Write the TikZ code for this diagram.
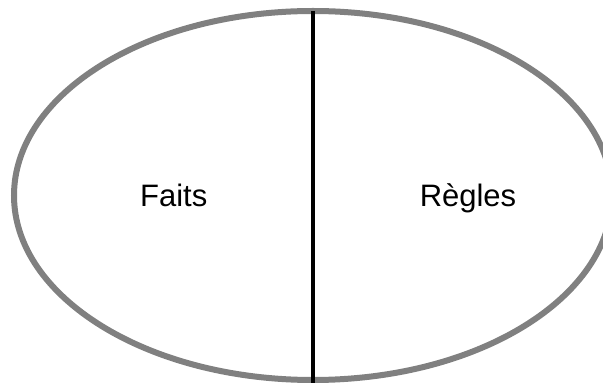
\documentclass[tikz,border=0pt]{standalone}
\usepackage{fontspec}
\setmainfont{Liberation Sans}
\begin{document}
\begin{tikzpicture}[x=1pt,y=1pt,
  oval/.style={draw={rgb,255:red,128;green,128;blue,128},line width=6pt},
  divider/.style={draw=black,line width=3.5pt},
  lbl/.style={font=\fontsize{31}{36}\selectfont,anchor=base,inner sep=0pt}]
\useasboundingbox (0,0) rectangle (603,383);
\begin{scope}
\clip (0,0) rectangle (603,383);
\draw[oval] (313,187.5) ellipse [x radius=299, y radius=184.5];
\coordinate (top) at (313,372);
\coordinate (bot) at (313,-2);
\draw[divider] (top) -- (bot);
\end{scope}
\node[lbl] (faits) at (173.7,176.3) {Faits};
\node[lbl] (regles) at (468,176.3) {Règles};
\end{tikzpicture}
\end{document}
